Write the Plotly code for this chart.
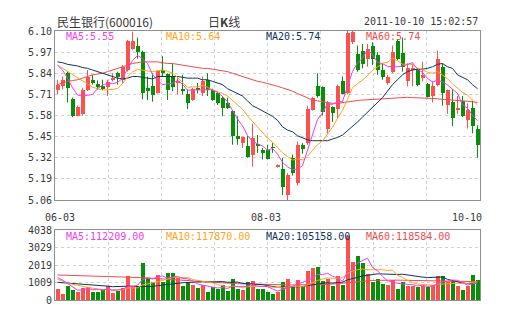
import plotly.graph_objects as go
import pandas as pd

# ---------------- data ----------------
date_labels = ["06-03", "08-03", "10-10"]
date_label_idx = [0, 42, 84]

opens = [5.74, 5.76, 5.84, 5.68, 5.58, 5.59, 5.74, 5.80, 5.775, 5.76,
         5.757, 5.80, 5.84, 5.80, 5.86, 5.99, 6.01, 5.97, 5.75, 5.76,
         5.72, 5.86, 5.835, 5.82, 5.78, 5.745, 5.71, 5.675, 5.745, 5.72,
         5.80, 5.74, 5.72, 5.69, 5.66, 5.605, 5.455, 5.41, 5.39, 5.34,
         5.40, 5.365, 5.365, 5.385, 5.265, 5.25, 5.09, 5.32, 5.165, 5.40,
         5.41, 5.615, 5.76, 5.755, 5.50, 5.63, 5.62, 5.795, 5.72, 6.035,
         5.96, 5.98, 5.93, 6.005, 5.95, 5.86, 5.78, 5.85, 6.04, 5.965,
         5.79, 5.865, 5.865, 5.81, 5.775, 5.70, 5.77, 5.88, 5.645, 5.665,
         5.614, 5.67, 5.55, 5.625, 5.50]
highs = [5.80, 5.82, 5.85, 5.69, 5.64, 5.75, 5.86, 5.83, 5.795, 5.80,
         5.80, 5.84, 5.85, 5.89, 6.045, 6.095, 6.06, 5.98, 5.82, 5.84,
         5.86, 5.945, 5.84, 5.90, 5.82, 5.83, 5.74, 5.75, 5.78, 5.82,
         5.84, 5.745, 5.73, 5.70, 5.69, 5.61, 5.575, 5.45, 5.455, 5.53,
         5.46, 5.38, 5.40, 5.41, 5.28, 5.32, 5.225, 5.34, 5.42, 5.41,
         5.64, 5.695, 5.84, 5.76, 5.67, 5.635, 5.77, 5.82, 6.10, 6.10,
         6.01, 6.02, 6.02, 6.03, 5.97, 5.90, 5.83, 6.01, 6.045, 6.06,
         5.90, 5.90, 5.87, 5.91, 5.78, 5.79, 5.98, 5.90, 5.74, 5.74,
         5.70, 5.70, 5.655, 5.67, 5.52]
lows = [5.71, 5.74, 5.66, 5.57, 5.575, 5.58, 5.73, 5.77, 5.74, 5.735,
        5.70, 5.79, 5.77, 5.78, 5.85, 5.985, 5.93, 5.68, 5.675, 5.665,
        5.715, 5.82, 5.675, 5.73, 5.71, 5.71, 5.62, 5.67, 5.715, 5.70,
        5.70, 5.67, 5.645, 5.575, 5.62, 5.40, 5.40, 5.38, 5.32, 5.265,
        5.35, 5.31, 5.31, 5.35, 5.26, 5.09, 5.06, 5.21, 5.15, 5.345,
        5.40, 5.61, 5.69, 5.58, 5.47, 5.54, 5.56, 5.71, 5.71, 6.02,
        5.85, 5.87, 5.88, 5.89, 5.83, 5.80, 5.77, 5.84, 5.92, 5.85,
        5.76, 5.76, 5.76, 5.79, 5.69, 5.66, 5.76, 5.64, 5.59, 5.515,
        5.59, 5.57, 5.50, 5.47, 5.32]
closes = [5.77, 5.80, 5.75, 5.58, 5.63, 5.74, 5.82, 5.78, 5.755, 5.745,
          5.788, 5.81, 5.82, 5.88, 6.04, 6.04, 5.97, 5.72, 5.73, 5.705,
          5.855, 5.84, 5.74, 5.755, 5.79, 5.735, 5.66, 5.745, 5.74, 5.795,
          5.74, 5.675, 5.655, 5.625, 5.625, 5.455, 5.435, 5.445, 5.325, 5.44,
          5.395, 5.355, 5.315, 5.38, 5.27, 5.14, 5.215, 5.225, 5.40, 5.375,
          5.62, 5.685, 5.70, 5.60, 5.66, 5.595, 5.76, 5.715, 6.09, 6.095,
          5.86, 5.90, 5.99, 5.925, 5.86, 5.82, 5.82, 5.97, 5.93, 5.88,
          5.87, 5.875, 5.77, 5.83, 5.695, 5.76, 5.93, 5.72, 5.735, 5.565,
          5.628, 5.58, 5.615, 5.515, 5.40]
volumes = [635, 346, 808, 577, 481, 673, 769, 481, 481, 577,
           808, 423, 538, 711, 1385, 808, 808, 2135, 1250, 1058,
           1442, 1058, 1538, 1538, 1250, 808, 1019, 865, 711, 865,
           481, 769, 635, 865, 538, 1212, 635, 577, 1019, 1100,
           635, 635, 481, 346, 481, 1058, 1211, 808, 1154, 808,
           1692, 1827, 1904, 1096, 1211, 808, 1385, 865, 3700, 2173,
           2538, 2154, 1481, 1058, 1212, 923, 865, 1154, 635, 1058,
           808, 808, 750, 808, 750, 865, 1385, 1385, 1019, 1096,
           808, 577, 808, 1442, 1154]

# moving-average values at the left edge (history before the window)
ma5_head = [5.89, 5.86, 5.81, 5.75]
ma10_head = [5.89, 5.87, 5.85, 5.83, 5.81, 5.79, 5.77, 5.755, 5.745]
ma20 = [5.91, 5.905, 5.895, 5.89, 5.885, 5.875, 5.87, 5.86, 5.85, 5.84,
        5.83, 5.82, 5.81, 5.805, 5.81, 5.82, 5.82, 5.815, 5.81, 5.805,
        5.82, 5.82, 5.82, 5.82, 5.82, 5.815, 5.81, 5.81, 5.81, 5.80,
        5.80, 5.79, 5.78, 5.77, 5.745, 5.73, 5.715, 5.70, 5.67, 5.64,
        5.625, 5.61, 5.595, 5.575, 5.55, 5.51, 5.49, 5.48, 5.455, 5.44,
        5.43, 5.425, 5.425, 5.425, 5.425, 5.435, 5.445, 5.46, 5.485, 5.51,
        5.54, 5.57, 5.60, 5.63, 5.66, 5.69, 5.73, 5.77, 5.80, 5.83,
        5.85, 5.86, 5.865, 5.865, 5.87, 5.88, 5.895, 5.90, 5.88, 5.87,
        5.83, 5.815, 5.80, 5.77, 5.745]
ma60 = [5.77, 5.78, 5.79, 5.795, 5.80, 5.81, 5.82, 5.83, 5.835, 5.84,
        5.85, 5.86, 5.87, 5.88, 5.89, 5.90, 5.905, 5.91, 5.91, 5.91,
        5.91, 5.905, 5.90, 5.90, 5.895, 5.89, 5.885, 5.88, 5.875, 5.87,
        5.87, 5.865, 5.86, 5.855, 5.85, 5.84, 5.83, 5.82, 5.81, 5.80,
        5.79, 5.785, 5.778, 5.77, 5.76, 5.75, 5.74, 5.73, 5.715, 5.70,
        5.685, 5.675, 5.67, 5.665, 5.66, 5.655, 5.655, 5.66, 5.665, 5.67,
        5.672, 5.675, 5.677, 5.68, 5.682, 5.685, 5.687, 5.69, 5.69, 5.692,
        5.692, 5.69, 5.69, 5.688, 5.686, 5.685, 5.683, 5.68, 5.678, 5.675,
        5.672, 5.67, 5.667, 5.665, 5.66]
vma5_head = [1288, 1154, 950, 769]
vma10_head = [1192, 1100, 962, 900, 830, 769, 720, 680, 650]
vma20_head = [1019, 1000, 980, 960, 940, 920, 904, 880, 860, 840,
              800, 769, 780, 800, 808, 800, 780, 769, 780]
vma60 = [1442, 1435, 1428, 1420, 1410, 1400, 1390, 1380, 1370, 1360,
         1350, 1345, 1340, 1335, 1330, 1320, 1308, 1290, 1270, 1250,
         1230, 1210, 1190, 1170, 1150, 1130, 1105, 1080, 1058, 1045,
         1030, 1015, 1000, 985, 970, 955, 940, 930, 920, 910,
         900, 895, 890, 885, 880, 875, 872, 870, 868, 866,
         865, 865, 865, 880, 900, 920, 945, 975, 1019, 1050,
         1080, 1100, 1115, 1125, 1135, 1145, 1154, 1150, 1145, 1140,
         1135, 1130, 1125, 1120, 1115, 1110, 1105, 1100, 1095, 1090,
         1085, 1080, 1075, 1065, 1058]

price_ticks = [5.06, 5.19, 5.32, 5.45, 5.58, 5.71, 5.84, 5.97, 6.10]
price_tick_text = ["5.06", "5.19", "5.32", "5.45", "5.58", "5.71", "5.84", "5.97", "6.10"]
vol_ticks = [0, 1009, 2019, 3029, 4038]
vol_tick_text = ["0", "1009", "2019", "3029", "4038"]

title_stock = "民生银行(600016)"
title_mid = "日<b>K</b>线"
title_time = "2011-10-10 15:02:57"
price_legend = ["MA5:5.55", "MA10:5.64", "MA20:5.74", "MA60:5.74"]
vol_legend = ["MA5:112209.00", "MA10:117870.00", "MA20:105158.00", "MA60:118584.00"]

# ---------------- styles ----------------
RED = "#ff5050"
GREEN = "#078f07"
C_MA5 = "#f03cf0"
C_MA10 = "#ffa31a"
C_MA20 = "#0f3460"
C_MA60 = "#f24c4c"
GRID = "#d2d2d2"
FRAME = "#8f8f8f"
TXT = "#3a3a3a"
MONO = "DejaVu Sans Mono"
CJK = "Noto Sans CJK SC"


def ma_with_head(values, n, head):
    rolled = pd.Series(values, dtype=float).rolling(n).mean().tolist()
    return list(head) + rolled[len(head):]


n = len(closes)
idx = list(range(n))
ma5 = ma_with_head(closes, 5, ma5_head)
ma10 = ma_with_head(closes, 10, ma10_head)
vma5 = ma_with_head(volumes, 5, vma5_head)
vma10 = ma_with_head(volumes, 10, vma10_head)
vma20 = ma_with_head(volumes, 20, vma20_head)

up = [c >= o for o, c in zip(opens, closes)]
colors = [RED if u else GREEN for u in up]

fig = go.Figure()

# wicks
for flag, col in ((True, RED), (False, GREEN)):
    wx, wy = [], []
    for i in idx:
        if up[i] == flag:
            wx += [i, i, None]
            wy += [lows[i], highs[i], None]
    fig.add_trace(go.Scatter(x=wx, y=wy, mode="lines", line=dict(color=col, width=1),
                             hoverinfo="skip", xaxis="x", yaxis="y"))

# bodies
body_base = [min(o, c) for o, c in zip(opens, closes)]
body_h = [max(abs(c - o), 0.006) for o, c in zip(opens, closes)]
fig.add_trace(go.Bar(x=idx, y=body_h, base=body_base, width=0.8, marker_color=colors,
                     marker_line_width=0, xaxis="x", yaxis="y"))

# price MAs
for vals, col in ((ma60, C_MA60), (ma20, C_MA20), (ma10, C_MA10), (ma5, C_MA5)):
    fig.add_trace(go.Scatter(x=idx, y=vals, mode="lines", line=dict(color=col, width=1),
                             xaxis="x", yaxis="y", hoverinfo="skip"))

# volume
fig.add_trace(go.Bar(x=idx, y=volumes, width=0.8, marker_color=colors, marker_line_width=0,
                     xaxis="x2", yaxis="y2"))
for vals, col in ((vma60, C_MA60), (vma20, C_MA20), (vma10, C_MA10), (vma5, C_MA5)):
    fig.add_trace(go.Scatter(x=idx, y=vals, mode="lines", line=dict(color=col, width=1),
                             xaxis="x2", yaxis="y2", hoverinfo="skip"))

W, H = 505, 330
ML, MR, MT, MB = 55, 25, 31, 30
PW = W - ML - MR
PH = H - MT - MB


def py(p):
    return (H - MB - p) / PH


def px(p):
    return (p - ML) / PW


x_range = [-0.5, n - 0.5]
grid_x = [x_range[0] + k * (x_range[1] - x_range[0]) / 8 for k in range(1, 8)]

common_x = dict(range=x_range, showline=True, mirror=True, linecolor=FRAME, linewidth=1,
                showgrid=True, gridcolor=GRID, griddash="3px,3px", gridwidth=1,
                tickmode="array", tickvals=grid_x, showticklabels=False, ticks="",
                zeroline=False, fixedrange=True)
common_y = dict(showline=True, mirror=True, linecolor=FRAME, linewidth=1,
                showgrid=True, gridcolor=GRID, griddash="3px,3px", gridwidth=1,
                ticks="", zeroline=False, tickfont=dict(family=MONO, size=10, color=TXT),
                fixedrange=True)

fig.update_layout(
    width=W, height=H,
    margin=dict(l=ML, r=MR, t=MT, b=MB, pad=0),
    paper_bgcolor="white", plot_bgcolor="white",
    showlegend=False, bargap=0,
    xaxis=dict(domain=[0, 1], anchor="y", **common_x),
    yaxis=dict(domain=[py(200), 1], anchor="x", range=[price_ticks[0], price_ticks[-1]],
               tickmode="array", tickvals=price_ticks, ticktext=price_tick_text, **common_y),
    xaxis2=dict(domain=[0, 1], anchor="y2", **common_x),
    yaxis2=dict(domain=[0, py(230)], anchor="x2", range=[vol_ticks[0], vol_ticks[-1]],
                tickmode="array", tickvals=vol_ticks, ticktext=vol_tick_text, **common_y),
)

ann = []
# header
ann.append(dict(text=title_stock, x=px(55), y=py(21), xanchor="left", yanchor="middle",
                font=dict(family=CJK, size=12, color=TXT)))
ann.append(dict(text=title_mid, x=px(224), y=py(21), xanchor="center", yanchor="middle",
                font=dict(family=CJK, size=12, color=TXT)))
ann.append(dict(text=title_time, x=px(480), y=py(21), xanchor="right", yanchor="middle",
                font=dict(family=MONO, size=10, color=TXT)))
# legends
leg_cols = [C_MA5, C_MA10, C_MA20, C_MA60]
leg_x = [64, 164, 264, 364]
for t, c, x0 in zip(price_legend, leg_cols, leg_x):
    ann.append(dict(text=t, x=px(x0), y=py(37), xanchor="left", yanchor="middle",
                    font=dict(family=MONO, size=10, color=c)))
for t, c, x0 in zip(vol_legend, leg_cols, leg_x):
    ann.append(dict(text=t, x=px(x0), y=py(236), xanchor="left", yanchor="middle",
                    font=dict(family=MONO, size=10, color=c)))
for a in ann:
    a.update(xref="paper", yref="paper", showarrow=False)

# date labels under the price panel
anchors = ["center", "center", "right"]
shifts = [2, -2, 6]
for lab, i, anc, sh in zip(date_labels, date_label_idx, anchors, shifts):
    ann.append(dict(text=lab, x=i, y=py(217), xref="x", yref="paper", xanchor=anc,
                    yanchor="middle", xshift=sh, showarrow=False,
                    font=dict(family=MONO, size=10, color=TXT)))

fig.update_layout(annotations=ann)
fig.write_html("out.html", config={"displayModeBar": False})
